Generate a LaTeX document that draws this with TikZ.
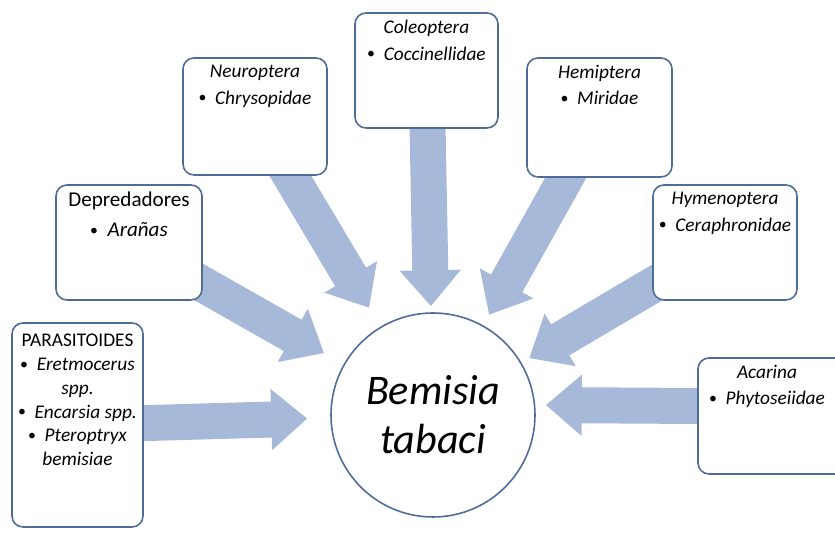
\documentclass[tikz,border=0pt]{standalone}
\usepackage{fontspec}
\setmainfont{Carlito}
\usetikzlibrary{arrows.meta,backgrounds}
\definecolor{boxLine}{RGB}{79,108,153}
\definecolor{arrowFill}{RGB}{167,185,217}
\newcommand{\itemDot}{\raisebox{0.15ex}{\fontsize{9}{9}\selectfont\textbullet}\hspace{0.45em}}

\begin{document}
\begin{tikzpicture}[
        groupBox/.style={
            rectangle,
            draw=boxLine,
            line width=0.9pt,
            rounded corners=0.22cm,
            fill=white,
            inner sep=0pt
        },
        groupText/.style={
            anchor=north,
            align=center,
            inner sep=1pt,
            font=\fontsize{11}{15}\selectfont
        },
        pestCircle/.style={
            circle,
            draw=boxLine,
            line width=0.9pt,
            fill=white,
            minimum size=4.08cm,
            inner sep=0pt,
            align=center,
            font=\fontsize{24}{28}\selectfont\itshape
        },
        bigArrow/.style={
            draw=arrowFill,
            line width=0.72cm,
            -{Triangle[length=0.72cm,width=1.18cm]},
            shorten <=-0.3cm
        }
    ]

        \useasboundingbox (0,0) rectangle (16.7,10.66);
        \clip (0,0) rectangle (16.7,10.66);

        \node[pestCircle] (pest) at (8.66,2.36) {Bemisia\\tabaci};

        \node[groupBox, minimum width=2.62cm, minimum height=4.08cm] (paras) at (1.55,2.16) {};
        \node[groupBox, minimum width=2.92cm, minimum height=2.30cm] (depred) at (2.58,5.81) {};
        \node[groupBox, minimum width=2.88cm, minimum height=2.34cm] (neuro) at (5.10,8.33) {};
        \node[groupBox, minimum width=2.86cm, minimum height=2.30cm] (coleo) at (8.53,9.25) {};
        \node[groupBox, minimum width=2.90cm, minimum height=2.38cm] (hemi) at (11.99,8.31) {};
        \node[groupBox, minimum width=2.88cm, minimum height=2.30cm] (hymen) at (14.50,5.81) {};
        \node[groupBox, minimum width=3.00cm, minimum height=2.32cm] (acari) at (15.46,2.34) {};

        \node[groupText, font=\fontsize{11}{13.5}\selectfont] (parasText) at ([yshift=-0.2cm]paras.north)
            {PARASITOIDES\\\itemDot\textit{Eretmocerus}\\\textit{spp.}\\\itemDot\textit{Encarsia spp.}\\\itemDot\textit{Pteroptryx}\\\textit{bemisiae}};
        \node[groupText, font=\fontsize{12}{17}\selectfont] (depredText) at ([yshift=-0.12cm]depred.north)
            {Depredadores\\\itemDot\textit{Arañas}};
        \node[groupText] (neuroText) at ([yshift=-0.12cm]neuro.north)
            {\textit{Neuroptera}\\\itemDot\textit{Chrysopidae}};
        \node[groupText] (coleoText) at ([yshift=-0.12cm]coleo.north)
            {\textit{Coleoptera}\\\itemDot\textit{Coccinellidae}};
        \node[groupText] (hemiText) at ([yshift=-0.12cm]hemi.north)
            {\textit{Hemiptera}\\\itemDot\textit{Miridae}};
        \node[groupText] (hymenText) at ([yshift=-0.12cm]hymen.north)
            {\textit{Hymenoptera}\\\itemDot\textit{Ceraphronidae}};
        \node[groupText] (acariText) at ([xshift=-0.12cm,yshift=-0.12cm]acari.north)
            {\textit{Acarina}\\\itemDot\textit{Phytoseiidae}};

        % arrows behind the boxes
        \begin{scope}[on background layer]
            \draw[bigArrow, shorten >=0.46cm] (paras) -- (pest);
            \draw[bigArrow, shorten >=0.45cm] (depred) -- (pest);
            \draw[bigArrow, shorten >=0.44cm] (neuro) -- (pest);
            \draw[bigArrow, shorten >=0.12cm] (coleo) -- (pest);
            \draw[bigArrow, shorten >=0.24cm] (hemi) -- (pest);
            \draw[bigArrow, shorten >=0.18cm] (hymen) -- (pest);
            \draw[bigArrow, shorten >=0.20cm] ([yshift=0.2cm]acari.west) -- ([yshift=0.2cm]pest.east);
        \end{scope}

    \end{tikzpicture}
\end{document}
